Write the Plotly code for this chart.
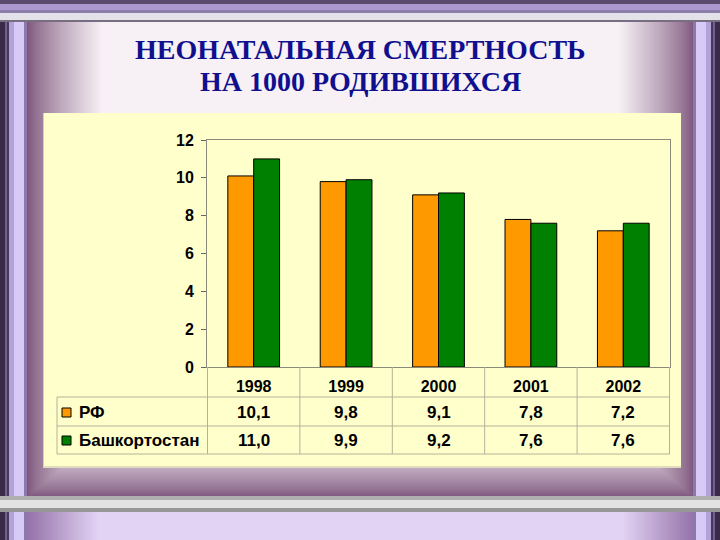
import base64, struct, zlib
import numpy as np
import plotly.graph_objects as go

# ---------------- data ----------------
years = ["1998", "1999", "2000", "2001", "2002"]
rf_values = [10.1, 9.8, 9.1, 7.8, 7.2]
bash_values = [11.0, 9.9, 9.2, 7.6, 7.6]
series_names = ["РФ", "Башкортостан"]
series_colors = ["#FF9900", "#008000"]
title_lines = ["НЕОНАТАЛЬНАЯ СМЕРТНОСТЬ", "НА 1000 РОДИВШИХСЯ"]
y_ticks = [0, 2, 4, 6, 8, 10, 12]

W, H = 720, 540


# ---------------- decorative slide background (image) ----------------
def png_uri(arr):
    h, w, _ = arr.shape
    raw = b"".join(b"\x00" + arr[r].tobytes() for r in range(h))

    def chunk(t, d):
        c = struct.pack(">I", len(d)) + t + d
        return c + struct.pack(">I", zlib.crc32(t + d) & 0xFFFFFFFF)

    png = (b"\x89PNG\r\n\x1a\n"
           + chunk(b"IHDR", struct.pack(">IIBBBBB", w, h, 8, 2, 0, 0, 0))
           + chunk(b"IDAT", zlib.compress(raw, 9))
           + chunk(b"IEND", b""))
    return "data:image/png;base64," + base64.b64encode(png).decode()


img = np.zeros((H, W, 3), dtype=float)
mauve = np.array([125, 86, 124], float)
white = np.array([247, 241, 246], float)
img[:, :] = mauve

stripes = [(0, 5, (58, 42, 74)), (5, 7, (110, 95, 140)), (7, 9, (72, 56, 92)),
           (9, 14, (178, 162, 216)), (14, 24, (216, 202, 246)), (24, 27, (140, 120, 170))]
for a, b, c in stripes:
    img[:, a:b] = c
    img[:, W - b:W - a] = c

xs = np.arange(W)[None, :]
ys = np.arange(H)[:, None]
hx = np.minimum(np.clip((xs - 27) / 75.0, 0, 1), np.clip((693 - xs) / 75.0, 0, 1))
vy = np.clip((496 - ys) / 60.0, 0, 1)
t = (np.minimum(hx, vy) ** 0.8)[..., None]
grad = mauve * (1 - t) + white * t
img[22:496, 27:693] = grad[22:496, 27:693]

# top band
for a, b, c in [(0, 4, (90, 75, 110)), (4, 10, (172, 152, 206)), (10, 13, (140, 125, 170)),
                (13, 20, (226, 226, 232)), (20, 22, (120, 110, 130))]:
    img[a:b, :] = c
# bottom gray bar
for a, b, c in [(496, 500, (175, 175, 175)), (500, 508, (226, 226, 226)), (508, 512, (150, 150, 150))]:
    img[a:b, :] = c
# bottom lavender band
lav_t = np.clip((xs - 27) / 70.0, 0, 1) * np.clip((693 - xs) / 70.0, 0, 1)
lav = np.array([150, 115, 170], float) * (1 - lav_t[..., None]) + np.array([226, 210, 244], float) * lav_t[..., None]
img[512:540, 27:693] = np.broadcast_to(lav[:, 27:693], (28, 666, 3))

# light-yellow panel
img[113:467, 43:681] = (255, 255, 204)
img[466:468, 43:681] = (225, 220, 190)
img[113:467, 43] = (215, 205, 190)

bg_uri = png_uri(np.clip(img, 0, 255).astype(np.uint8))


# ---------------- helpers for paper coordinates ----------------
def px(x):
    return x / W


def py(y):
    return (H - y) / H


font_family = "Liberation Sans, Arial, sans-serif"

fig = go.Figure()
for name, vals, col in zip(series_names, [rf_values, bash_values], series_colors):
    fig.add_trace(go.Bar(x=years, y=vals, name=name, marker=dict(color=col, line=dict(color="black", width=1))))

fig.update_layout(
    template="none",
    width=W, height=H,
    autosize=False,
    margin=dict(l=0, r=0, t=0, b=0, pad=0, autoexpand=False),
    paper_bgcolor="rgba(0,0,0,0)",
    plot_bgcolor="rgba(0,0,0,0)",
    barmode="group", bargap=0.44, bargroupgap=0,
    showlegend=False,
    images=[dict(source=bg_uri, xref="paper", yref="paper", x=0, y=1, sizex=1, sizey=1,
                 sizing="stretch", xanchor="left", yanchor="top", layer="below")],
)

fig.update_xaxes(type="category", automargin=False,
                 domain=[px(207), px(670)], showline=True, mirror=True, linecolor="#8a8a7a", linewidth=1,
                 ticks="", showgrid=False,
                 tickfont=dict(family=font_family, size=16, color="black", weight="bold"),
                 ticklabelstandoff=5)
fig.update_yaxes(automargin=False,
                 domain=[py(367), py(140)], range=[0, 12], tickvals=y_ticks, showline=True, mirror=True,
                 linecolor="#8a8a7a", linewidth=1, ticks="outside", ticklen=5, tickcolor="#666666",
                 showgrid=False, zeroline=False,
                 tickfont=dict(family=font_family, size=16, color="black", weight="bold"),
                 ticklabelstandoff=4)

shapes = []
line_col = "#b2b298"
# table horizontal lines
for yy in [397, 426, 454]:
    shapes.append(dict(type="line", xref="paper", yref="paper", x0=px(57), x1=px(670), y0=py(yy), y1=py(yy),
                       line=dict(color=line_col, width=1)))
# table vertical lines at category boundaries
for i in range(len(years) + 1):
    shapes.append(dict(type="line", xref="x", yref="paper", x0=i - 0.5, x1=i - 0.5, y0=py(367), y1=py(454),
                       line=dict(color=line_col, width=1)))
shapes.append(dict(type="line", xref="paper", yref="paper", x0=px(57), x1=px(57), y0=py(397), y1=py(454),
                   line=dict(color=line_col, width=1)))

annotations = []
row_y = [412, 440]
for r, (name, vals, col) in enumerate(zip(series_names, [rf_values, bash_values], series_colors)):
    yc = row_y[r]
    shapes.append(dict(type="rect", xref="paper", yref="paper", x0=px(62), x1=px(71), y0=py(yc + 5), y1=py(yc - 4),
                       fillcolor=col, line=dict(color="black", width=1)))
    annotations.append(dict(text=name, xref="paper", yref="paper", x=px(77), y=py(yc), xanchor="left",
                            yanchor="middle", showarrow=False,
                            font=dict(family=font_family, size=17, color="black", weight="bold")))
    for i, v in enumerate(vals):
        annotations.append(dict(text=f"{v:.1f}".replace(".", ","), xref="x", yref="paper", x=i, y=py(yc),
                                xanchor="center", yanchor="middle", showarrow=False,
                                font=dict(family=font_family, size=17, color="black", weight="bold")))

title_y = [49, 81]
for line, yc in zip(title_lines, title_y):
    annotations.append(dict(text=line, xref="paper", yref="paper", x=0.5, y=py(yc), xanchor="center",
                            yanchor="middle", showarrow=False,
                            font=dict(family="Liberation Serif, Times New Roman, serif", size=28,
                                      color="#10108f", weight="bold")))

fig.update_layout(shapes=shapes, annotations=annotations)
fig.write_html("out.html", config={"displayModeBar": False},
               post_script="document.body.style.margin='0';document.body.style.overflow='hidden';")
